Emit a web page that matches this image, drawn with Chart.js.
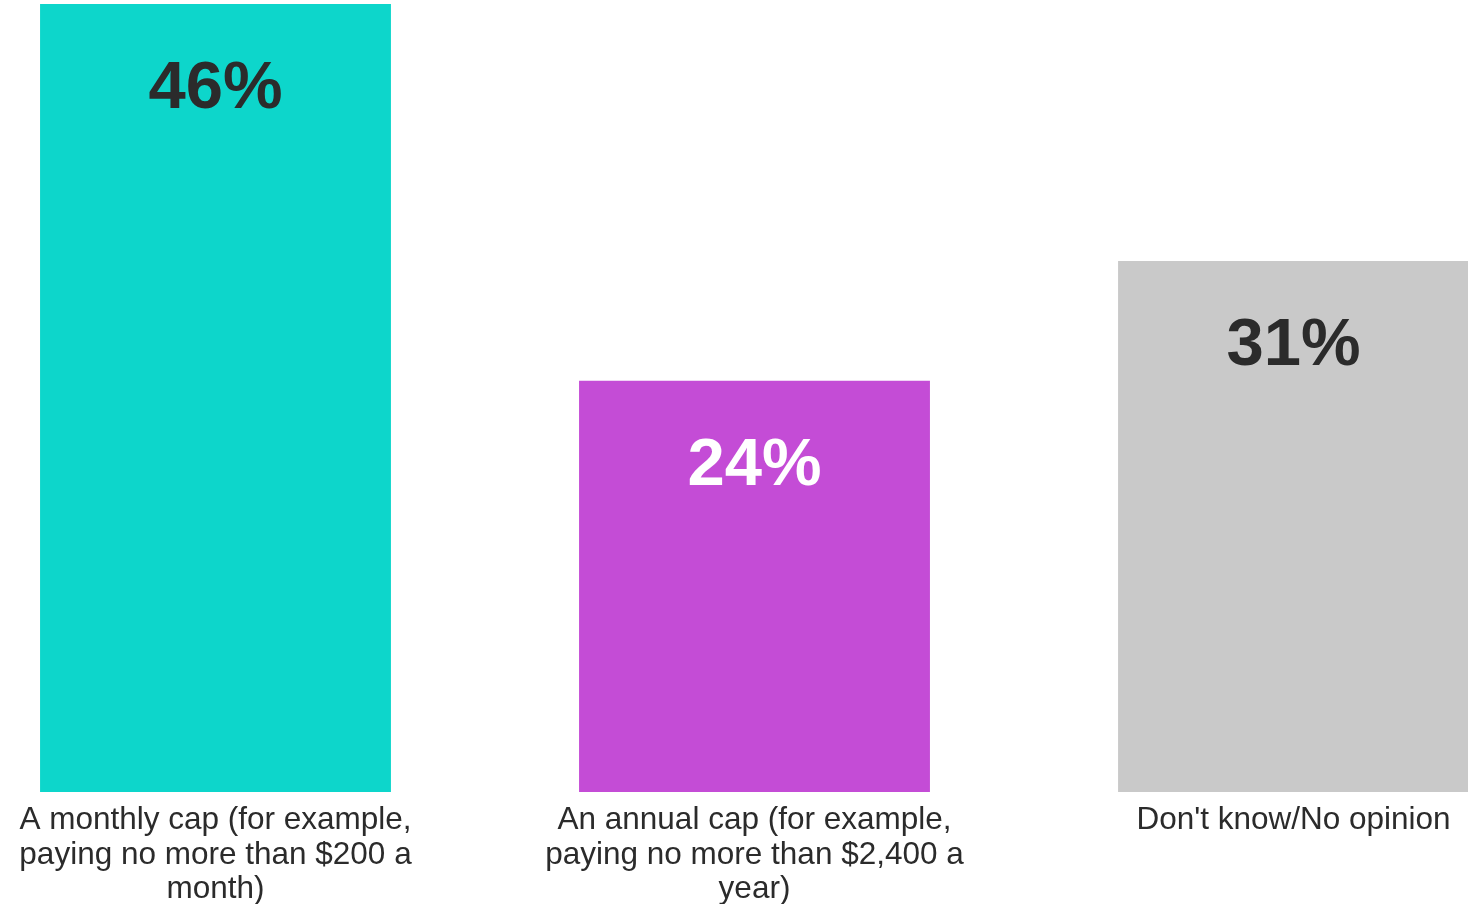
<!DOCTYPE html>
<html lang="en">
<head>
    <meta charset="UTF-8">
    <title>Cap preference</title>
    <script src="https://cdn.jsdelivr.net/npm/chart.js"></script>
    <style>
        html, body { margin: 0; padding: 0; background: #fff; overflow: hidden; }
        .wrap { position: absolute; left: -54px; top: 0; width: 1617px; height: 904px; }
    </style>
</head>
<body>
    <div class="wrap">
        <canvas id="capChart"></canvas>
    </div>
    <script>
// answer options (wrapped the way they show under the bars)
const categories = [
    ['A monthly cap (for example,', 'paying no more than $200 a', 'month)'],
    ['An annual cap (for example,', 'paying no more than $2,400 a', 'year)'],
    ["Don't know/No opinion"]
];
const shares = [46, 24, 31];
const barColors = ['#0dd6cb', '#c44cd6', '#c9c9c9'];
const labelColors = ['#2b2b2b', '#ffffff', '#2b2b2b'];

// big % labels inside the top of each bar
const valueLabels = {
    id: 'valueLabels',
    afterDatasetsDraw(chart) {
        const ctx = chart.ctx;
        const meta = chart.getDatasetMeta(0);
        ctx.save();
        ctx.font = 'bold 67px "Liberation Sans", Arial, sans-serif';
        ctx.textAlign = 'center';
        ctx.textBaseline = 'middle';
        meta.data.forEach((bar, i) => {
            ctx.fillStyle = labelColors[i];
            ctx.fillText(shares[i] + '%', bar.x, bar.y + 86);
        });
        ctx.restore();
    }
};

const ctx = document.getElementById('capChart').getContext('2d');
new Chart(ctx, {
    type: 'bar',
    data: {
        labels: categories,
        datasets: [{
            data: shares,
            backgroundColor: barColors,
            borderWidth: 0,
            categoryPercentage: 1,
            barPercentage: 0.651
        }]
    },
    options: {
        responsive: true,
        maintainAspectRatio: false,
        animation: false,
        layout: { padding: { top: 4, left: 0, right: 0, bottom: 0 } },
        plugins: {
            legend: { display: false },
            tooltip: { enabled: false }
        },
        scales: {
            x: {
                grid: { display: false },
                border: { display: false },
                ticks: {
                    color: '#2b2b2b',
                    font: { family: '"Liberation Sans", Arial, sans-serif', size: 31.5, lineHeight: 1.1 },
                    padding: 3,
                    maxRotation: 0,
                    autoSkip: false
                },
                afterFit(scale) { scale.height = 112; }
            },
            y: {
                display: false,
                min: 0,
                max: 46
            }
        }
    },
    plugins: [valueLabels]
});
    </script>
</body>
</html>
